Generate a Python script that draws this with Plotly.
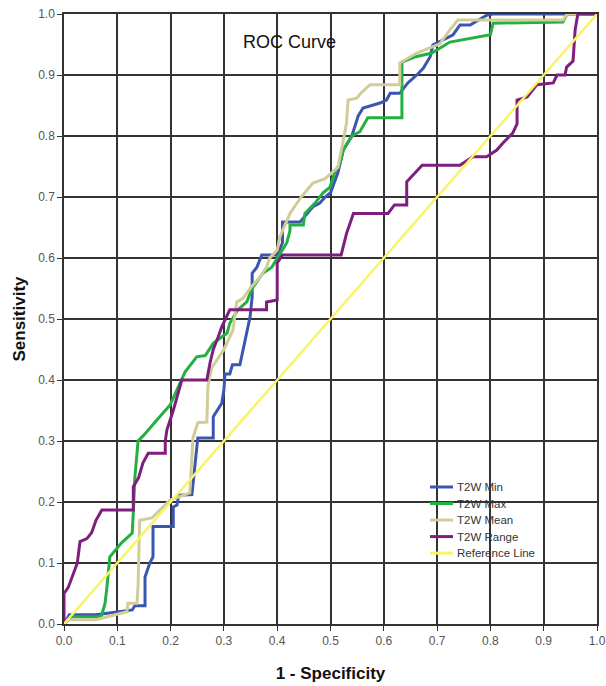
import plotly.graph_objects as go

# ---- data (1 - specificity, sensitivity) ----
min_fpr = [0, 0.01, 0.06, 0.128, 0.133, 0.152, 0.152, 0.161, 0.167, 0.167, 0.205, 0.205, 0.212, 0.215, 0.24,
           0.246, 0.251, 0.28, 0.28, 0.296, 0.30, 0.302, 0.311, 0.316, 0.33, 0.34, 0.349, 0.353, 0.353, 0.362,
           0.371, 0.40, 0.41, 0.41, 0.443, 0.467, 0.48, 0.49, 0.50, 0.514, 0.524, 0.54, 0.552, 0.561, 0.593,
           0.605, 0.612, 0.63, 0.645, 0.662, 0.674, 0.687, 0.692, 0.73, 0.743, 0.762, 0.793, 0.805, 1.0]
min_tpr = [0, 0.015, 0.015, 0.023, 0.03, 0.03, 0.077, 0.10, 0.11, 0.16, 0.16, 0.192, 0.195, 0.211, 0.212,
           0.27, 0.305, 0.305, 0.34, 0.362, 0.384, 0.41, 0.41, 0.425, 0.425, 0.466, 0.503, 0.536, 0.575, 0.585,
           0.605, 0.605, 0.625, 0.659, 0.659, 0.684, 0.69, 0.70, 0.707, 0.74, 0.777, 0.80, 0.833, 0.846, 0.854,
           0.859, 0.87, 0.87, 0.887, 0.90, 0.911, 0.93, 0.949, 0.966, 0.982, 0.982, 0.998, 1.0, 1.0]

max_fpr = [0, 0.015, 0.07, 0.077, 0.08, 0.086, 0.108, 0.128, 0.13, 0.133, 0.139, 0.15, 0.171, 0.199, 0.227,
           0.249, 0.265, 0.28, 0.306, 0.311, 0.326, 0.343, 0.353, 0.373, 0.39, 0.409, 0.418, 0.424, 0.424,
           0.449, 0.452, 0.471, 0.486, 0.499, 0.508, 0.518, 0.524, 0.54, 0.555, 0.57, 0.634, 0.634, 0.66,
           0.69, 0.724, 0.80, 0.805, 0.936, 0.944, 1.0]
max_tpr = [0, 0.012, 0.012, 0.034, 0.056, 0.11, 0.133, 0.149, 0.182, 0.241, 0.30, 0.31, 0.331, 0.359, 0.413,
           0.438, 0.44, 0.46, 0.477, 0.493, 0.515, 0.528, 0.55, 0.575, 0.585, 0.613, 0.625, 0.645, 0.654,
           0.654, 0.673, 0.69, 0.707, 0.716, 0.74, 0.756, 0.777, 0.80, 0.807, 0.83, 0.83, 0.921, 0.93,
           0.936, 0.954, 0.966, 0.985, 0.987, 1.0, 1.0]

mean_fpr = [0, 0.008, 0.06, 0.108, 0.118, 0.12, 0.137, 0.139, 0.142, 0.165, 0.199, 0.236, 0.242, 0.251,
            0.268, 0.27, 0.277, 0.30, 0.317, 0.324, 0.336, 0.349, 0.368, 0.38, 0.386, 0.40, 0.405, 0.41, 0.424,
            0.445, 0.467, 0.49, 0.514, 0.524, 0.53, 0.533, 0.549, 0.559, 0.574, 0.63, 0.63, 0.662, 0.69, 0.705,
            0.724, 0.739, 0.936, 0.944, 1.0]
mean_tpr = [0, 0.007, 0.007, 0.018, 0.02, 0.034, 0.034, 0.064, 0.17, 0.174, 0.203, 0.215, 0.305, 0.33,
            0.331, 0.389, 0.42, 0.45, 0.482, 0.528, 0.534, 0.55, 0.569, 0.585, 0.60, 0.613, 0.635, 0.645, 0.673,
            0.70, 0.723, 0.73, 0.749, 0.793, 0.821, 0.859, 0.862, 0.872, 0.884, 0.884, 0.92, 0.936, 0.946, 0.951,
            0.974, 0.99, 0.99, 1.0, 1.0]

range_fpr = [0, 0, 0.008, 0.017, 0.025, 0.03, 0.043, 0.052, 0.06, 0.071, 0.13, 0.13, 0.14, 0.148, 0.158, 0.19,
             0.19, 0.193, 0.205, 0.221, 0.268, 0.274, 0.28, 0.289, 0.296, 0.311, 0.38, 0.38, 0.40, 0.40, 0.41,
             0.52, 0.53, 0.543, 0.608, 0.62, 0.643, 0.643, 0.672, 0.743, 0.767, 0.793, 0.812, 0.824, 0.842,
             0.85, 0.85, 0.869, 0.887, 0.918, 0.925, 0.94, 0.943, 0.955, 0.959, 0.964, 1.0]
range_tpr = [0, 0.05, 0.06, 0.08, 0.10, 0.135, 0.14, 0.15, 0.17, 0.187, 0.187, 0.225, 0.24, 0.264, 0.28, 0.28,
             0.30, 0.318, 0.35, 0.40, 0.40, 0.428, 0.45, 0.47, 0.487, 0.515, 0.515, 0.528, 0.531, 0.592, 0.605,
             0.605, 0.64, 0.673, 0.673, 0.687, 0.687, 0.725, 0.752, 0.752, 0.766, 0.766, 0.777, 0.789, 0.805,
             0.82, 0.859, 0.864, 0.884, 0.887, 0.90, 0.90, 0.913, 0.923, 0.974, 1.0, 1.0]

ref_fpr = [0, 1]
ref_tpr = [0, 1]

series_names = ["T2W Min", "T2W Max", "T2W Mean", "T2W Range", "Reference Line"]
series_colors = ["#3B56B0", "#22B040", "#D2CC98", "#7E1F7E", "#F8F46A"]
tick_vals = [0.0, 0.1, 0.2, 0.3, 0.4, 0.5, 0.6, 0.7, 0.8, 0.9, 1.0]
tick_text = ["0.0", "0.1", "0.2", "0.3", "0.4", "0.5", "0.6", "0.7", "0.8", "0.9", "1.0"]

xs = [min_fpr, max_fpr, mean_fpr, range_fpr, ref_fpr]
ys = [min_tpr, max_tpr, mean_tpr, range_tpr, ref_tpr]
for a, b in zip(xs, ys):
    assert len(a) == len(b), (len(a), len(b))

FONT = "Liberation Sans, Arial, sans-serif"
fig = go.Figure()
for x, y, n, c in zip(xs, ys, series_names, series_colors):
    fig.add_trace(go.Scatter(x=x, y=y, mode="lines", name=n, showlegend=False,
                             line=dict(color=c, width=3 if n != "Reference Line" else 2.5)))

axis_common = dict(range=[0, 1], tickvals=tick_vals, ticktext=tick_text, automargin=False,
                   showgrid=True, gridcolor="#333333", gridwidth=1.5,
                   showline=True, linecolor="#333333", linewidth=1.5, mirror=True,
                   ticks="outside", ticklen=5, tickcolor="#333333", tickwidth=1,
                   tickfont=dict(family=FONT, size=12, color="#555555"),
                   zeroline=False, fixedrange=True)

# manual legend (compact, like the original)
shapes = []
annotations = []
leg_x0, leg_x1, leg_tx = 0.6867, 0.7298, 0.733
leg_y0, leg_dy = 0.2246, 0.0271
for i, (n, c) in enumerate(zip(series_names, series_colors)):
    yy = leg_y0 - i * leg_dy
    shapes.append(dict(type="line", xref="paper", yref="paper", x0=leg_x0, x1=leg_x1, y0=yy, y1=yy,
                       line=dict(color=c, width=3)))
    annotations.append(dict(text=n, x=leg_tx, y=yy, xref="paper", yref="paper", xanchor="left",
                            yanchor="middle", showarrow=False,
                            font=dict(family=FONT, size=11.5, color="#333333")))

annotations.append(dict(text="ROC Curve", x=0.424, y=0.954, xref="paper", yref="paper",
                        xanchor="center", yanchor="middle", showarrow=False,
                        font=dict(family=FONT, size=18, color="#111111")))

fig.update_layout(
    width=606, height=686,
    margin=dict(l=64, r=9, t=14, b=62),
    paper_bgcolor="white", plot_bgcolor="white",
    font=dict(family=FONT),
    showlegend=False,
    xaxis=dict(title=dict(text="<b>1 - Specificity</b>", font=dict(family=FONT, size=17, color="#111111"),
                          standoff=20), **axis_common),
    yaxis=dict(title=dict(text="<b>Sensitivity</b>", font=dict(family=FONT, size=17, color="#111111"),
                          standoff=8), **axis_common),
    shapes=shapes,
    annotations=annotations,
)

fig.write_html("out.html")
